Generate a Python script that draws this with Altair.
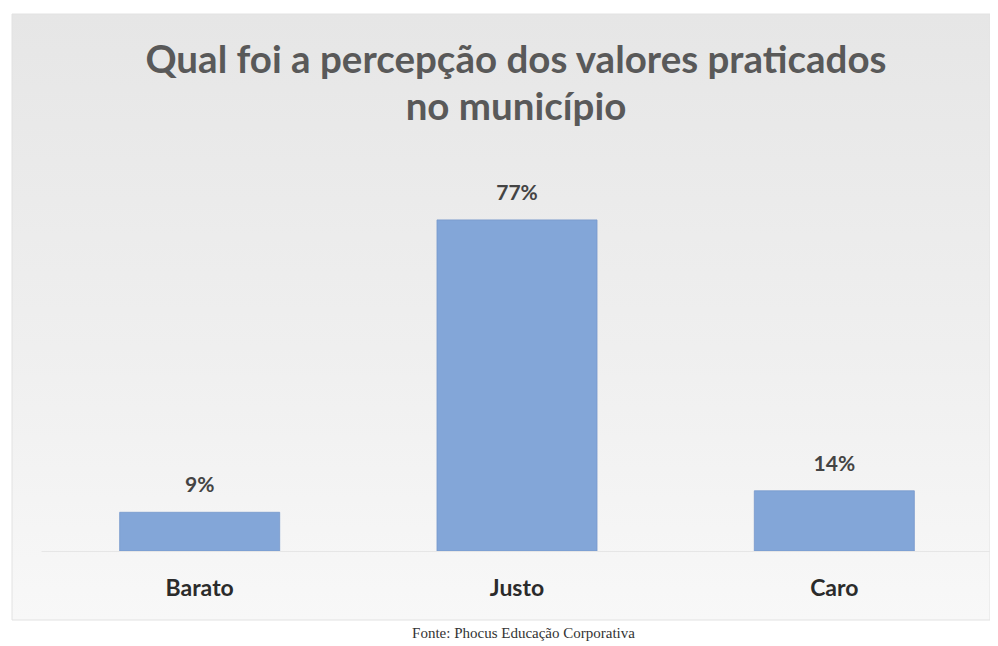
import altair as alt
import pandas as pd

categories = ["Barato", "Justo", "Caro"]
values = [9, 77, 14]
labels = ["9%", "77%", "14%"]

title_lines = ["Qual foi a percepção dos valores praticados", "no município"]
source_note = "Fonte: Phocus Educação Corporativa"

df = pd.DataFrame({"cat": categories, "val": values, "lab": labels})

W, H = 982, 612
y_scale = alt.Scale(domain=[-16.05, 126.28], nice=False, zero=False)
x_scale = alt.Scale(domain=categories, range=[33, 985], paddingInner=0.4957, paddingOuter=0.2479)

bg = alt.Chart(pd.DataFrame({"a": [0]})).mark_rect(
    fill=alt.LinearGradient(
        gradient="linear",
        stops=[alt.GradientStop(color="#e6e6e6", offset=0),
               alt.GradientStop(color="#efefef", offset=0.55),
               alt.GradientStop(color="#f8f8f8", offset=1)],
        x1=0, x2=0, y1=0, y2=1,
    ),
    stroke="#e2e2e2", strokeWidth=1,
).encode(x=alt.value(4), x2=alt.value(982), y=alt.value(6), y2=alt.value(612))

x_enc = alt.X(
    "cat:N", scale=x_scale, sort=categories,
    axis=alt.Axis(
        title=source_note, orient="bottom", offset=-69, zindex=2,
        domain=True, domainColor="#e6e6e6", domainWidth=1,
        ticks=False, labelPadding=26, labelAngle=0,
        labelFont="Lato", labelFontSize=23, labelFontWeight="bold", labelColor="#2b2b2b",
        titleFont="Liberation Serif", titleFontSize=15, titleFontWeight="normal", titleColor="#333333",
        titleX=515, titleY=86, titleBaseline="alphabetic", titleAnchor="start", titleAlign="center",
        grid=False,
    ),
)

bars = alt.Chart(df).mark_bar(color="#83a6d8", stroke="#7698cc", strokeWidth=0.8).encode(
    x=x_enc,
    y=alt.Y("val:Q", scale=y_scale, axis=None),
)

texts = alt.Chart(df).mark_text(
    font="Lato", fontSize=21, fontWeight="bold", color="#444444",
    baseline="alphabetic", dy=-20,
).encode(
    x=alt.X("cat:N", scale=x_scale, sort=categories),
    y=alt.Y("val:Q", scale=y_scale),
    text="lab:N",
)

chart = alt.layer(bg, bars, texts).properties(
    width=W, height=H,
    autosize=alt.AutoSizeParams(type="none"),
    padding={"left": 0, "top": 0, "right": 0, "bottom": 24},
    background="white",
    title=alt.TitleParams(
        text=title_lines, anchor="middle", orient="top", offset=0,
        dx=17, dy=120, font="Lato", fontSize=38.5, fontWeight="bold",
        color="#595959", lineHeight=47,
    ),
).configure_view(stroke=None)

chart.save("out.html", embed_options={"renderer": "svg", "actions": False})
